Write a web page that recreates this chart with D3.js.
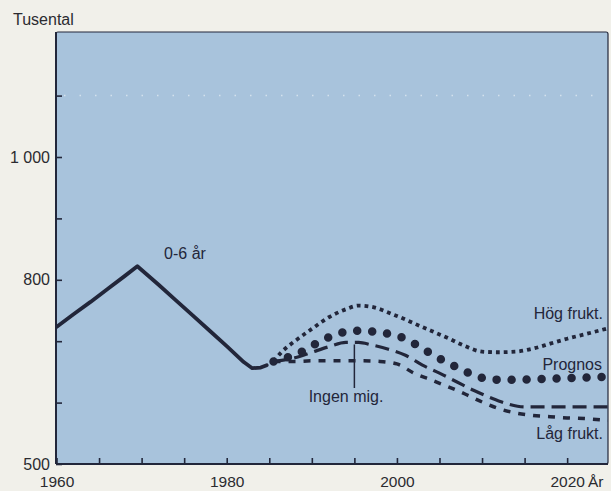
<!DOCTYPE html>
<html><head><meta charset="utf-8">
<script src="https://cdn.jsdelivr.net/npm/d3@7"></script>
<style>
html,body{margin:0;padding:0;background:#f1f0ea;}
svg{display:block;font-family:"Liberation Sans",Arial,sans-serif;}
</style>
</head><body>
<svg id="c" width="611" height="491"></svg>
<script>
// ---- data (thousands of children aged 0-6) ----
const histYears  = [1960,1962,1964,1966,1968,1969.5,1972,1974,1976,1978,1980,1981,1982,1983,1984,1984.7];
const histValues = [723, 744, 764, 785, 806, 822,   792, 767, 742, 717, 692, 679, 666, 656, 657, 661];

const hogYears  = [1985.5,1986.5,1988,1990,1992,1994,1995.5,1997,2000,2003,2006,2008,2010,2012,2014,2016,2018,2020,2022,2024.8];
const hogValues = [667,   683,   700, 720, 739, 752, 758,   756, 741, 723, 705, 692, 683, 682, 683, 688, 696, 704, 711, 721];

const progYears  = [1985.5,1987,1989,1991,1993,1995,1997,1999,2001,2003,2005,2007,2009,2011,2013,2016,2020,2024.8];
const progValues = [667,   673, 684, 700, 712, 717, 716, 712, 704, 688, 672, 658, 645, 638, 637, 638, 640, 642];

const ingenYears  = [1985.5,1988,1990,1992,1994,1995.5,1997,1999,2001,2003,2005,2007,2009,2011,2013,2015,2020,2024.8];
const ingenValues = [667,   673, 682, 691, 698, 698,   694, 687, 677, 661, 648, 634, 620, 608, 598, 593, 593, 593];

const lagYears  = [1985.5,1988,1990,1992,1994,1996,1998,2000,2002,2004,2006,2008,2010,2012,2014,2016,2018,2020,2022,2024.8];
const lagValues = [667,   667, 668, 668, 668, 668, 667, 663, 648, 637, 626, 614, 601, 590, 583, 579, 577, 575, 574, 571];

const xTickYears  = [1960,1965,1970,1975,1980,1985,1990,1995,2000,2005,2010,2015,2020];
const xTickLabels = {1960:"1960",1980:"1980",2000:"2000",2020:"2020"};
const yTickValues = [500,600,700,800,900,1000,1100];
const yTickLabels = {500:"500",800:"800",1000:"1 000"};

// ---- layout ----
const W = 611, H = 491;
const pLeft = 56, pRight = 608, pTop = 32, pBottom = 464;
const ink = "#22263a";
const txt = "#2b2b30";

const x = d3.scaleLinear().domain([1960, 2024.8]).range([pLeft + 0.5, pRight]);
const y = d3.scaleLinear().domain([500, 1000]).range([pBottom, 157]);

const svg = d3.select("#c");

svg.append("rect").attr("width", W).attr("height", H).attr("fill", "#f1f0ea");

// plot panel
svg.append("rect")
  .attr("x", pLeft).attr("y", pTop)
  .attr("width", pRight - pLeft).attr("height", pBottom - pTop)
  .attr("rx", 2)
  .attr("fill", "#a8c3dc")
  .attr("stroke", ink).attr("stroke-width", 1.2);

svg.append("defs").append("clipPath").attr("id", "clip")
  .append("rect").attr("x", pLeft).attr("y", pTop).attr("width", pRight - pLeft).attr("height", pBottom - pTop);

// faint dotted line near top
svg.append("line")
  .attr("x1", pLeft + 8).attr("x2", pRight - 4)
  .attr("y1", y(1100)).attr("y2", y(1100))
  .attr("stroke", "#dfe9f2").attr("stroke-width", 1.5)
  .attr("stroke-dasharray", "1.5,14").attr("opacity", 0.8);

// axes
const yAxis = d3.axisLeft(y).tickValues(yTickValues)
  .tickSize(-6).tickPadding(6)
  .tickFormat(v => yTickLabels[v] || "");
const gy = svg.append("g").attr("transform", `translate(${pLeft},0)`).call(yAxis);
gy.select(".domain").remove();
gy.selectAll(".tick line").attr("stroke", ink).attr("stroke-width", 1.6);
gy.selectAll(".tick text").attr("fill", txt).attr("font-size", 16)
  .attr("font-family", "Liberation Sans, Arial, sans-serif");

const xAxis = d3.axisBottom(x).tickValues(xTickYears)
  .tickSize(-6).tickPadding(12)
  .tickFormat(v => xTickLabels[v] || "");
const gx = svg.append("g").attr("transform", `translate(0,${pBottom})`).call(xAxis);
gx.select(".domain").remove();
gx.selectAll(".tick line").attr("stroke", ink).attr("stroke-width", 1.6);
gx.selectAll(".tick text").attr("fill", txt).attr("font-size", 15.5)
  .attr("font-family", "Liberation Sans, Arial, sans-serif");

// axis lines
svg.append("line").attr("x1", pLeft).attr("x2", pLeft).attr("y1", pTop).attr("y2", pBottom)
  .attr("stroke", ink).attr("stroke-width", 2);
svg.append("line").attr("x1", pLeft).attr("x2", pRight).attr("y1", pBottom).attr("y2", pBottom)
  .attr("stroke", ink).attr("stroke-width", 2);

svg.append("text").attr("x", 588).attr("y", pBottom + 12).attr("dy", "0.71em")
  .attr("font-size", 15.5).attr("fill", txt).text("År");
svg.append("text").attr("x", 13).attr("y", 25)
  .attr("font-size", 16).attr("fill", txt).text("Tusental");

// series
const g = svg.append("g").attr("clip-path", "url(#clip)");
const zip = (xs, vs) => xs.map((d, i) => [d, vs[i]]);

const lineLin = d3.line().x(d => x(d[0])).y(d => y(d[1])).curve(d3.curveLinear);
const lineSmooth = d3.line().x(d => x(d[0])).y(d => y(d[1])).curve(d3.curveMonotoneX);

g.append("path").datum(zip(histYears, histValues)).attr("d", lineLin)
  .attr("fill", "none").attr("stroke", ink).attr("stroke-width", 3.8)
  .attr("stroke-linejoin", "round").attr("stroke-linecap", "round");

g.append("path").datum(zip(hogYears, hogValues)).attr("d", lineSmooth)
  .attr("fill", "none").attr("stroke", ink).attr("stroke-width", 3.8)
  .attr("stroke-dasharray", "3.8,4");

g.append("path").datum(zip(lagYears, lagValues)).attr("d", lineSmooth)
  .attr("fill", "none").attr("stroke", ink).attr("stroke-width", 3.5)
  .attr("stroke-dasharray", "7,8");

g.append("path").datum(zip(ingenYears, ingenValues)).attr("d", lineSmooth)
  .attr("fill", "none").attr("stroke", ink).attr("stroke-width", 3.2)
  .attr("stroke-dasharray", "14,7");

g.append("path").datum(zip(progYears, progValues)).attr("d", lineSmooth)
  .attr("fill", "none").attr("stroke", ink).attr("stroke-width", 8.5)
  .attr("stroke-linecap", "round").attr("stroke-dasharray", "0,15");

// pointer for "Ingen mig."
svg.append("line").attr("x1", x(1995)).attr("x2", x(1995))
  .attr("y1", y(698) + 2).attr("y2", 388)
  .attr("stroke", ink).attr("stroke-width", 1.5);

// labels
const lab = (t, xx, yy, anchor) => svg.append("text")
  .attr("x", xx).attr("y", yy).attr("text-anchor", anchor)
  .attr("font-size", 16).attr("fill", "#23263a").text(t);
lab("0-6 år", 185, 259, "middle");
lab("Hög frukt.", 603, 319, "end");
lab("Prognos", 602, 370, "end");
lab("Ingen mig.", 346, 402, "middle");
lab("Låg frukt.", 603, 439, "end");
</script>
</body></html>
